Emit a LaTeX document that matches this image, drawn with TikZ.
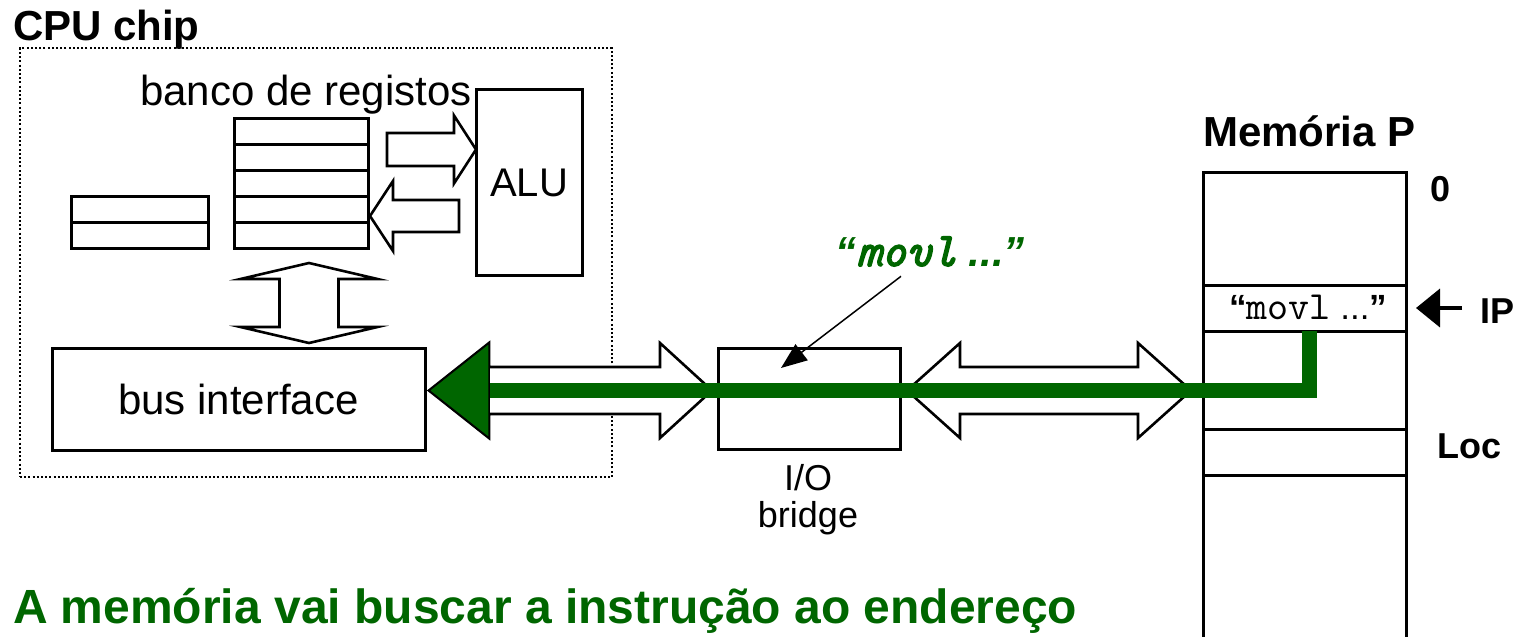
\documentclass[tikz,border=0pt]{standalone}
\usepackage{fontspec}
\setmainfont{Liberation Sans}
\newfontfamily\courier{lmmono10-regular.otf}[
  ItalicFont=lmmono10-italic.otf,
  BoldFont=lmmono10-regular.otf, BoldFeatures={FakeBold=3},
  BoldItalicFont=lmmono10-italic.otf, BoldItalicFeatures={FakeBold=3}]
\usetikzlibrary{calc,arrows.meta}
\definecolor{busgreen}{RGB}{0,102,0}

\tikzset{
  box/.style={draw, line width=3pt, inner sep=0pt, outer sep=0pt},
  block/.style={draw, fill=white, line width=2.6pt, line join=miter},
  greenbus/.style={draw=busgreen, line width=15pt, line join=miter},
  lbl/.style={inner sep=0pt, outer sep=0pt},
}

% horizontal block arrow: tail, tip, signed head length, shaft half width, head half width
\newcommand{\harrow}[5]{%
  \draw[block] let \p1=#1, \p2=#2, \n1={#3} in
    ({\x1},{\y2+#4}) -- ({\x2-\n1},{\y2+#4}) -- ({\x2-\n1},{\y2+#5}) -- (\x2,\y2)
    -- ({\x2-\n1},{\y2-#5}) -- ({\x2-\n1},{\y2-#4}) -- ({\x1},{\y2-#4}) -- cycle;}

% horizontal double block arrow: left tip, right tip, left head, right head, shaft half, head half
\newcommand{\hdouble}[6]{%
  \draw[block] let \p1=#1, \p2=#2 in
    (\x1,\y1) -- ({\x1+#3},{\y1+#6}) -- ({\x1+#3},{\y1+#5}) -- ({\x2-#4},{\y1+#5})
    -- ({\x2-#4},{\y1+#6}) -- (\x2,\y1) -- ({\x2-#4},{\y1-#6}) -- ({\x2-#4},{\y1-#5})
    -- ({\x1+#3},{\y1-#5}) -- ({\x1+#3},{\y1-#6}) -- cycle;}

% vertical double block arrow: top tip, bottom tip, head length, shaft half, head half
\newcommand{\vdouble}[5]{%
  \draw[block] let \p1=#1, \p2=#2 in
    (\x1,\y1) -- ({\x1+#5},{\y1-#3}) -- ({\x1+#4},{\y1-#3}) -- ({\x1+#4},{\y2+#3})
    -- ({\x1+#5},{\y2+#3}) -- (\x1,\y2) -- ({\x1-#5},{\y2+#3}) -- ({\x1-#4},{\y2+#3})
    -- ({\x1-#4},{\y1-#3}) -- ({\x1-#5},{\y1-#3}) -- cycle;}

\begin{document}
\begin{tikzpicture}[x=1pt,y=-1pt]
\useasboundingbox (0,0) rectangle (1515,637);
\clip (0,0) rectangle (1515,637);

% CPU chip outline
\node[draw, line width=2pt, dash pattern=on 2pt off 2.2pt, minimum width=592pt,
      minimum height=429pt, inner sep=0pt] (chip) at (316,262.5) {};
\node[lbl, anchor=base west, font=\fontsize{42}{48}\selectfont\bfseries] (chiplbl) at (13,40) {CPU chip};

% register file
\foreach \i/\y in {1/131,2/157,3/183,4/209,5/235}
  \node[box, minimum width=134pt, minimum height=26pt] (r\i) at (301,\y) {};
\node[lbl, anchor=base west, font=\fontsize{42}{48}\selectfont] (banklbl) at (140,105) {banco de registos};

% extra register
\node[box, minimum width=137pt, minimum height=26pt] (s1) at (139.5,209) {};
\node[box, minimum width=137pt, minimum height=26pt] (s2) at (139.5,235) {};

% ALU
\node[box, minimum width=106pt, minimum height=186pt, font=\fontsize{40}{46}\selectfont] (alu) at (529,182.5) {ALU};

% bus interface, bridge
\node[box, minimum width=373pt, minimum height=102pt, font=\fontsize{42}{48}\selectfont] (bus) at (238.5,399) {bus interface};
\node[box, minimum width=182pt, minimum height=101pt] (io) at (809,398.5) {};
\node[lbl, anchor=base, align=center, font=\fontsize{36}{37}\selectfont] (iolbl) at (808,527) {I/O\\bridge};

% main memory
\node[box, minimum width=203pt, minimum height=113pt] (m0) at (1304.5,228.5) {};
\node[box, minimum width=203pt, minimum height=46pt] (mIP) at (1304.5,308) {};
\node[box, minimum width=203pt, minimum height=98pt] (mA) at (1304.5,380) {};
\node[box, minimum width=203pt, minimum height=46pt] (mLoc) at (1304.5,452) {};
\node[box, minimum width=203pt, minimum height=185pt] (mB) at (1304.5,567.5) {};
\node[lbl, anchor=base, font=\fontsize{35}{40}\selectfont] (instr) at (1308,319)
  {{\bfseries``}{\courier\fontsize{40}{44}\selectfont movl} ...{\bfseries''}};
\node[lbl, anchor=base west, font=\fontsize{42}{48}\selectfont\bfseries] (memlbl) at (1203,146) {Memória P};
\node[lbl, anchor=base, font=\fontsize{36}{42}\selectfont\bfseries] (zero) at (1440,201) {0};
\node[lbl, anchor=base west, font=\fontsize{36}{42}\selectfont\bfseries] (iplbl) at (1480,323) {IP};
\node[lbl, anchor=base west, font=\fontsize{36}{42}\selectfont\bfseries] (loclbl) at (1437,458) {Loc};

% internal block arrows
\coordinate (toalu) at (387,149.5);
\coordinate (fromalu) at (459,216);
\coordinate (alutip) at (alu.west |- toalu);
\coordinate (regtip) at ([xshift=2pt]r4.east |- fromalu);
\harrow{(toalu)}{(alutip)}{22pt}{16.5pt}{34pt}
\harrow{(fromalu)}{(regtip)}{-23pt}{16pt}{35pt}
\coordinate (vtop) at (309,263);
\coordinate (vbot) at (309,343);
\vdouble{(vtop)}{(vbot)}{16pt}{29.5pt}{68.5pt}

% system bus and memory bus
\coordinate (busy) at (0,390.5);
\coordinate (bustip) at ([xshift=4pt]bus.east |- busy);
\coordinate (iotipL) at ([xshift=-6pt]io.west |- busy);
\coordinate (iotipR) at ([xshift=7pt]io.east |- busy);
\coordinate (memtip) at ([xshift=-12pt]mA.west |- busy);
\hdouble{(bustip)}{(iotipL)}{60pt}{52pt}{23.5pt}{47.5pt}
\hdouble{(iotipR)}{(memtip)}{53pt}{53pt}{23.5pt}{47.5pt}

% instruction travelling from memory to the CPU
\draw[greenbus] ([xshift=5pt]mIP.south) |- ([xshift=60pt]bustip);
\draw[fill=busgreen, line width=1.5pt, line join=miter] (bustip) -- ++(60,-47.5) -- ++(0,95) -- cycle;

\node[lbl, anchor=base, text=busgreen, font=\fontsize{42}{48}\selectfont\bfseries\itshape] (movlbl) at (930,266)
  {``{\courier\fontsize{48}{52}\selectfont movl} ...''};
\coordinate (iohit) at ([shift={(63pt,-20pt)}]io.north west);
\draw[line width=1.5pt, -{Triangle[length=26pt,width=20pt]}] ([xshift=-29pt,yshift=-10pt]movlbl.south) -- (iohit);

% instruction pointer
\draw[line width=4pt, -{Triangle[length=24pt,width=38pt]}] ([xshift=-18pt]iplbl.west |- mIP.east) -- ([xshift=10pt]mIP.east);

% caption
\node[lbl, anchor=base west, text=busgreen, font=\fontsize{48}{54}\selectfont\bfseries] (caption) at (13,623)
  {A memória vai buscar a instrução ao endereço};
\end{tikzpicture}
\end{document}
